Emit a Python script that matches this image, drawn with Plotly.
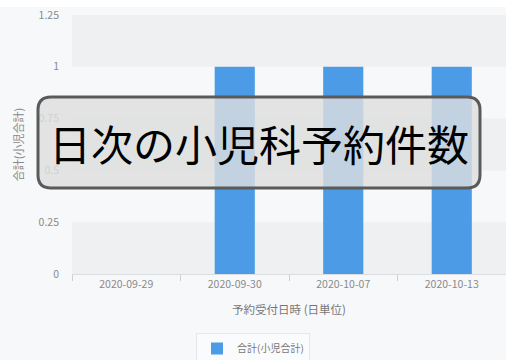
import plotly.graph_objects as go

categories = ["2020-09-29", "2020-09-30", "2020-10-07", "2020-10-13"]
values = [0, 1, 1, 1]
series_name = "合計(小児合計)"
title_text = "日次の小児科予約件数"
y_ticks = [0, 0.25, 0.5, 0.75, 1, 1.25]
y_tick_labels = ["0", "0.25", "0.5", "0.75", "1", "1.25"]

FONT = "Noto Sans CJK JP"
W, H = 506, 360
ML, MR, MT, MB = 72, 0, 15, 86
PW, PH = W - ML - MR, H - MT - MB

def px_x(x):
    return (x - ML) / PW

def px_y(y):
    return (H - MB - y) / PH

fig = go.Figure()
fig.add_trace(go.Bar(
    x=categories, y=values, name=series_name,
    marker=dict(color="#4b9be7", line=dict(width=0)),
    showlegend=True,
))

shapes = []
# alternating bands
for i in range(len(y_ticks) - 1):
    if i % 2 == 0:
        shapes.append(dict(type="rect", xref="paper", yref="y", x0=0, x1=1,
                           y0=y_ticks[i], y1=y_ticks[i + 1],
                           fillcolor="#eff0f2", line=dict(width=0), layer="below"))
# top white strip
shapes.append(dict(type="rect", xref="paper", yref="paper", x0=px_x(0), x1=px_x(W),
                   y0=px_y(7), y1=px_y(-2), fillcolor="#ffffff", line=dict(width=0),
                   layer="below"))

# rounded title box
x0, x1, y0, y1, r = 38, 480, 97, 188, 13
def P(x, y):
    return f"{px_x(x)},{px_y(y)}"
path = (f"M {P(x0 + r, y0)} L {P(x1 - r, y0)} Q {P(x1, y0)} {P(x1, y0 + r)} "
        f"L {P(x1, y1 - r)} Q {P(x1, y1)} {P(x1 - r, y1)} "
        f"L {P(x0 + r, y1)} Q {P(x0, y1)} {P(x0, y1 - r)} "
        f"L {P(x0, y0 + r)} Q {P(x0, y0)} {P(x0 + r, y0)} Z")
shapes.append(dict(type="path", xref="paper", yref="paper", path=path,
                   fillcolor="rgba(222,222,222,0.82)",
                   line=dict(color="#5a5a5a", width=3), layer="above"))

fig.update_layout(
    width=W, height=H,
    margin=dict(l=ML, r=MR, t=MT, b=MB, autoexpand=False),
    paper_bgcolor="#f7f8fa", plot_bgcolor="#f7f8fa",
    font=dict(family=FONT, color="#888888", size=10.5),
    bargap=0.63,
    shapes=shapes,
    showlegend=True,
    legend=dict(
        orientation="h", xref="container", yref="container",
        x=0.5, xanchor="center", y=(H - 333) / H, yanchor="top",
        bgcolor="#fafbfc", bordercolor="#e6e7ea", borderwidth=1,
        font=dict(size=10, color="#777777", family=FONT),
        itemwidth=30,
    ),
    annotations=[dict(
        text=title_text, xref="paper", yref="paper",
        x=px_x((x0 + x1) / 2), y=px_y((y0 + y1) / 2),
        xanchor="center", yanchor="middle", showarrow=False,
        font=dict(size=42, color="#000000", family=FONT),
    )],
)

fig.update_xaxes(
    type="category", showgrid=False, zeroline=False,
    showline=True, linecolor="#dcdde0", linewidth=1,
    ticks="outside", tickson="boundaries", ticklen=6, tickcolor="#cfd0d3",
    tickfont=dict(size=10.5, color="#8a8a8a"),
    title=dict(text="予約受付日時 (日単位)", font=dict(size=11.5, color="#777777"), standoff=16),
    automargin=False,
)
fig.update_yaxes(
    range=[0, 1.25], tickvals=y_ticks, ticktext=y_tick_labels,
    showgrid=False, zeroline=False, showline=False,
    ticks="", ticklabelstandoff=12,
    tickfont=dict(size=10.5, color="#8a8a8a"),
    title=dict(text="合計(小児合計)", font=dict(size=11, color="#888888"), standoff=12),
    automargin=False,
)

fig.write_html("out.html")
